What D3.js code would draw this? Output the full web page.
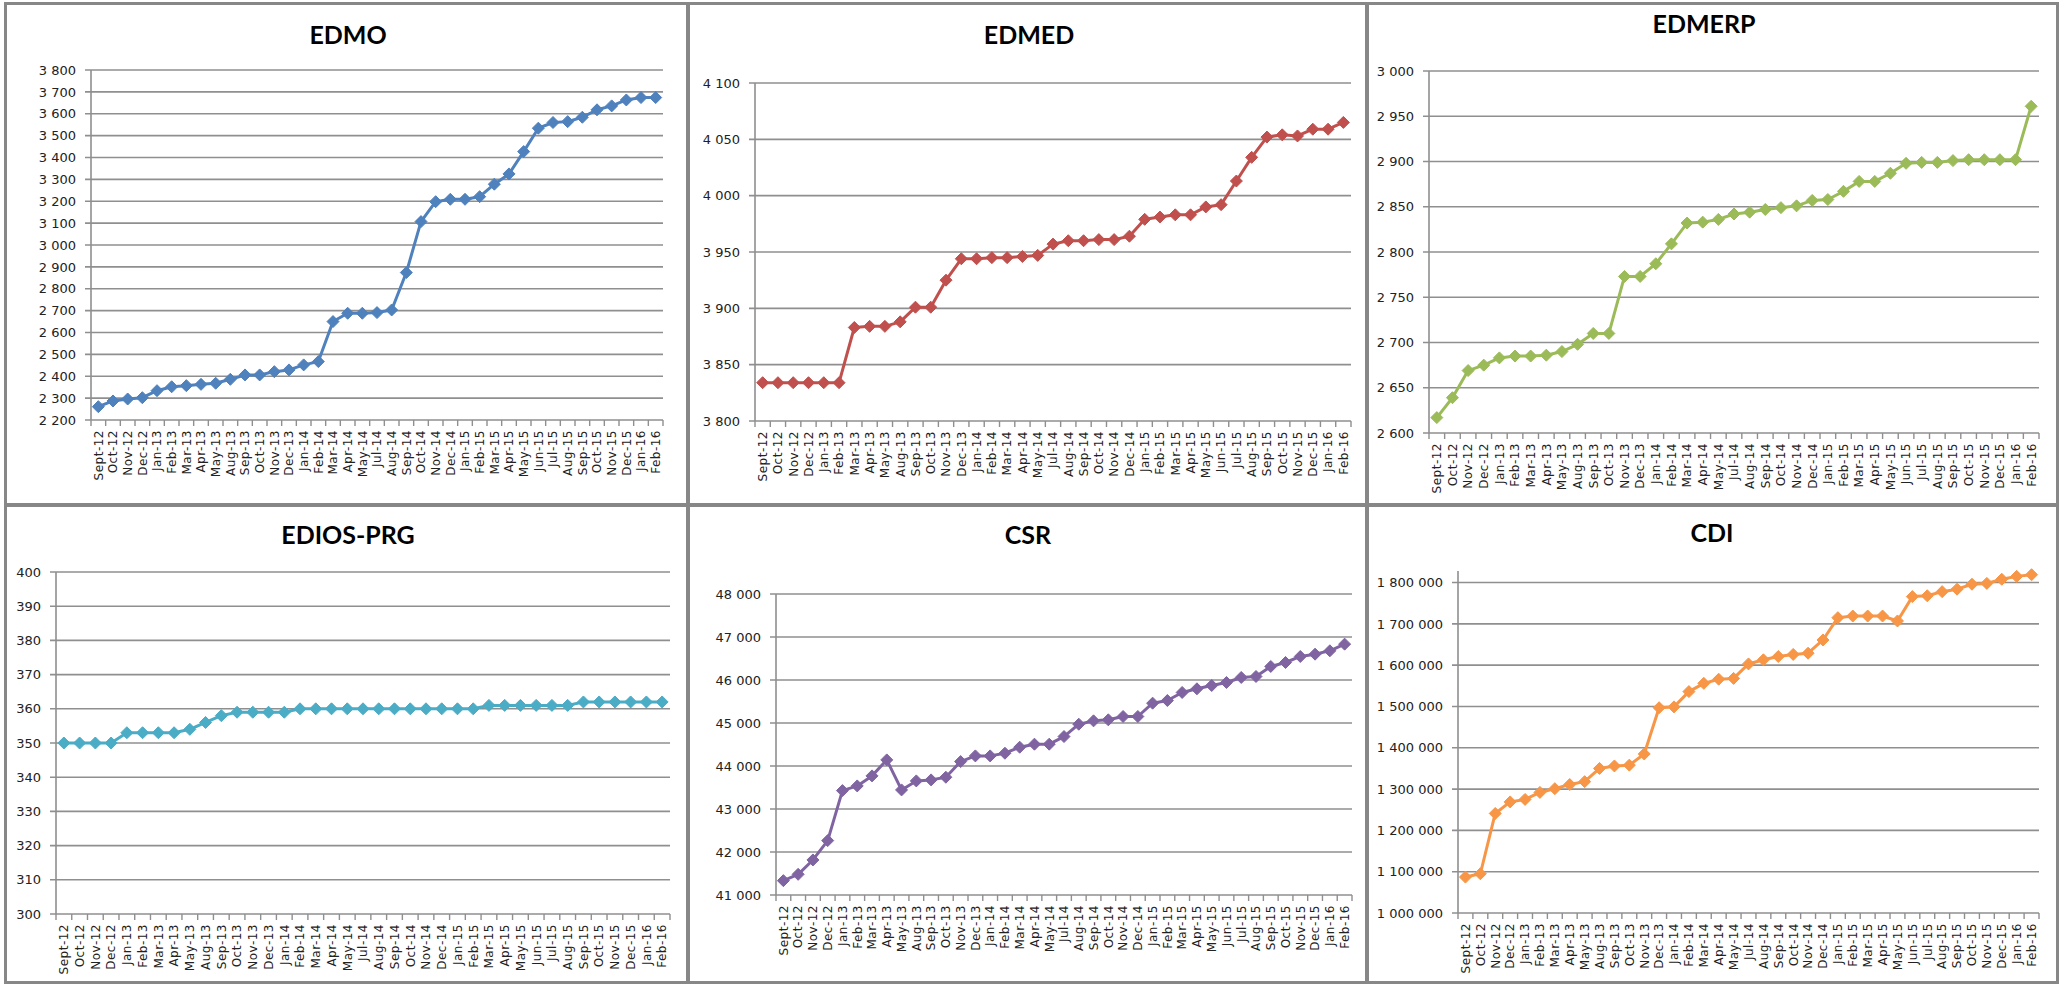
<!DOCTYPE html>
<html>
<head>
<meta charset="utf-8">
<script src="https://cdn.jsdelivr.net/npm/d3@7"></script>
<style>
  html, body { margin: 0; padding: 0; background: #ffffff; }
  svg { display: block; }
</style>
</head>
<body>
<svg id="chart" width="2065" height="984"></svg>
<script>
// ---------- DATA ----------
const categories = ["Sept-12","Oct-12","Nov-12","Dec-12","Jan-13","Feb-13","Mar-13","Apr-13","May-13","Aug-13","Sep-13","Oct-13","Nov-13","Dec-13","Jan-14","Feb-14","Mar-14","Apr-14","May-14","Jul-14","Aug-14","Sep-14","Oct-14","Nov-14","Dec-14","Jan-15","Feb-15","Mar-15","Apr-15","May-15","Jun-15","Jul-15","Aug-15","Sep-15","Oct-15","Nov-15","Dec-15","Jan-16","Feb-16"];

const edmoValues = [2261,2287,2296,2302,2334,2352,2357,2363,2368,2386,2406,2406,2421,2429,2452,2467,2650,2688,2688,2691,2703,2874,3107,3198,3209,3209,3221,3278,3325,3427,3534,3560,3564,3584,3618,3636,3663,3674,3674];
const edmedValues = [3834,3834,3834,3834,3834,3834,3883,3884,3884,3888,3901,3901,3925,3944,3944,3945,3945,3946,3947,3957,3960,3960,3961,3961,3964,3979,3981,3983,3983,3990,3992,4013,4034,4052,4054,4053,4059,4059,4065];
const edmerpValues = [2617,2639,2669,2675,2683,2685,2685,2686,2690,2698,2710,2710,2773,2773,2787,2809,2832,2833,2836,2842,2844,2847,2849,2851,2857,2858,2867,2878,2878,2887,2898,2899,2899,2901,2902,2902,2902,2902,2961];
const ediosValues = [350,350,350,350,353,353,353,353,354,356,358,359,359,359,359,360,360,360,360,360,360,360,360,360,360,360,360,361,361,361,361,361,361,362,362,362,362,362,362];
const csrValues = [41334,41481,41815,42265,43428,43537,43770,44142,43444,43653,43677,43739,44103,44235,44235,44297,44437,44507,44507,44685,44972,45050,45074,45151,45151,45461,45523,45710,45795,45872,45942,46059,46082,46315,46407,46547,46601,46679,46834];
const cdiValues = [1087000,1095000,1241000,1269000,1275000,1292000,1301000,1311000,1318000,1350000,1356000,1358000,1385000,1497000,1499000,1536000,1556000,1566000,1568000,1603000,1613000,1621000,1626000,1629000,1661000,1715000,1719000,1719000,1719000,1707000,1766000,1768000,1778000,1784000,1796000,1798000,1808000,1815000,1819000];

const edmoTicks = [2200,2300,2400,2500,2600,2700,2800,2900,3000,3100,3200,3300,3400,3500,3600,3700,3800];
const edmedTicks = [3800,3850,3900,3950,4000,4050,4100];
const edmerpTicks = [2600,2650,2700,2750,2800,2850,2900,2950,3000];
const ediosTicks = [300,310,320,330,340,350,360,370,380,390,400];
const csrTicks = [41000,42000,43000,44000,45000,46000,47000,48000];
const cdiTicks = [1000000,1100000,1200000,1300000,1400000,1500000,1600000,1700000,1800000];

const titles = ["EDMO","EDMED","EDMERP","EDIOS-PRG","CSR","CDI"];
const colors = ["#4F81BD","#C0504D","#9BBB59","#4BACC6","#8064A2","#F79646"];

// ---------- LAYOUT ----------
const panels = [
  {title: titles[0], values: edmoValues,  ticks: edmoTicks,  color: colors[0], x0: 91,   x1: 663,  yTop: 70,  yBot: 420, dom: [2200, 3800],     tx: 348,  ty: 35},
  {title: titles[1], values: edmedValues, ticks: edmedTicks, color: colors[1], x0: 755,  x1: 1351, yTop: 83,  yBot: 421, dom: [3800, 4100],     tx: 1029, ty: 35},
  {title: titles[2], values: edmerpValues,ticks: edmerpTicks,color: colors[2], x0: 1429, x1: 2039, yTop: 71,  yBot: 433, dom: [2600, 3000],     tx: 1704, ty: 24},
  {title: titles[3], values: ediosValues, ticks: ediosTicks, color: colors[3], x0: 56,   x1: 670,  yTop: 572, yBot: 914, dom: [300, 400],       tx: 348,  ty: 535},
  {title: titles[4], values: csrValues,   ticks: csrTicks,   color: colors[4], x0: 776,  x1: 1352, yTop: 594, yBot: 895, dom: [41000, 48000],   tx: 1028, ty: 535},
  {title: titles[5], values: cdiValues,   ticks: cdiTicks,   color: colors[5], x0: 1458, x1: 2039, yTop: 571, yBot: 913, dom: [1000000, 1828000], tx: 1712, ty: 533}
];

const locale = d3.formatLocale({decimal: ",", thousands: " ", grouping: [3], currency: ["", ""]});
const fmt = locale.format(",d");

const svg = d3.select("#chart");
const gridColor = "#8f8f8f";

panels.forEach(p => {
  const g = svg.append("g");
  const x = d3.scaleBand().domain(categories).range([p.x0, p.x1]).paddingInner(0).paddingOuter(0);
  const y = d3.scaleLinear().domain(p.dom).range([p.yBot, p.yTop]);

  // gridlines + y ticks
  g.selectAll("line.grid").data(p.ticks).enter().append("line")
    .attr("x1", p.x0 - 6).attr("x2", p.x1)
    .attr("y1", d => y(d)).attr("y2", d => y(d))
    .attr("stroke", gridColor).attr("stroke-width", 1.6);

  // y axis line
  g.append("line")
    .attr("x1", p.x0).attr("x2", p.x0)
    .attr("y1", y(p.dom[1])).attr("y2", y(p.dom[0]))
    .attr("stroke", gridColor).attr("stroke-width", 1.6);

  // y labels
  g.selectAll("text.ylab").data(p.ticks).enter().append("text")
    .attr("x", p.x0 - 15).attr("y", d => y(d))
    .attr("dy", "0.36em")
    .attr("text-anchor", "end")
    .attr("font-family", "DejaVu Sans")
    .attr("font-size", 13)
    .attr("fill", "#222")
    .text(d => fmt(d));

  // x tick marks at category boundaries
  const bounds = categories.map(c => x(c)).concat([p.x1]);
  g.selectAll("line.xt").data(bounds).enter().append("line")
    .attr("x1", d => d).attr("x2", d => d)
    .attr("y1", p.yBot).attr("y2", p.yBot + 6)
    .attr("stroke", gridColor).attr("stroke-width", 1.4);

  // x labels (rotated)
  g.selectAll("text.xlab").data(categories).enter().append("text")
    .attr("transform", d => `translate(${x(d) + x.bandwidth() / 2},${p.yBot + 10}) rotate(-90)`)
    .attr("text-anchor", "end")
    .attr("dy", "0.36em")
    .attr("font-family", "DejaVu Sans")
    .attr("font-size", 12)
    .attr("letter-spacing", "0.5px")
    .attr("fill", "#222")
    .text(d => d);

  // line
  const line = d3.line()
    .x((d, i) => x(categories[i]) + x.bandwidth() / 2)
    .y(d => y(d));
  g.append("path").datum(p.values)
    .attr("d", line)
    .attr("fill", "none")
    .attr("stroke", p.color)
    .attr("stroke-width", 3)
    .attr("stroke-linejoin", "round");

  // diamond markers
  const r = 6;
  g.selectAll("path.mk").data(p.values).enter().append("path")
    .attr("transform", (d, i) => `translate(${x(categories[i]) + x.bandwidth() / 2},${y(d)})`)
    .attr("d", `M0,${-r}L${r},0L0,${r}L${-r},0Z`)
    .attr("fill", p.color)
    .attr("stroke", p.color)
    .attr("stroke-width", 1);

  // title
  g.append("text")
    .attr("x", p.tx).attr("y", p.ty)
    .attr("dy", "0.35em")
    .attr("text-anchor", "middle")
    .attr("font-family", "Lato")
    .attr("font-weight", "bold")
    .attr("font-size", 25)
    .attr("fill", "#000")
    .text(p.title);
});

// panel borders
const borderColor = "#878787";
const hLines = [{y: 3.5, w: 3}, {y: 505, w: 4}, {y: 982.5, w: 3}];
const vLines = [{x: 5.5, w: 3}, {x: 688, w: 4}, {x: 1367, w: 4}, {x: 2057.5, w: 3}];
svg.selectAll("line.hb").data(hLines).enter().append("line")
  .attr("x1", 4).attr("x2", 2059).attr("y1", d => d.y).attr("y2", d => d.y)
  .attr("stroke", borderColor).attr("stroke-width", d => d.w);
svg.selectAll("line.vb").data(vLines).enter().append("line")
  .attr("y1", 2).attr("y2", 984).attr("x1", d => d.x).attr("x2", d => d.x)
  .attr("stroke", borderColor).attr("stroke-width", d => d.w);
</script>
</body>
</html>
